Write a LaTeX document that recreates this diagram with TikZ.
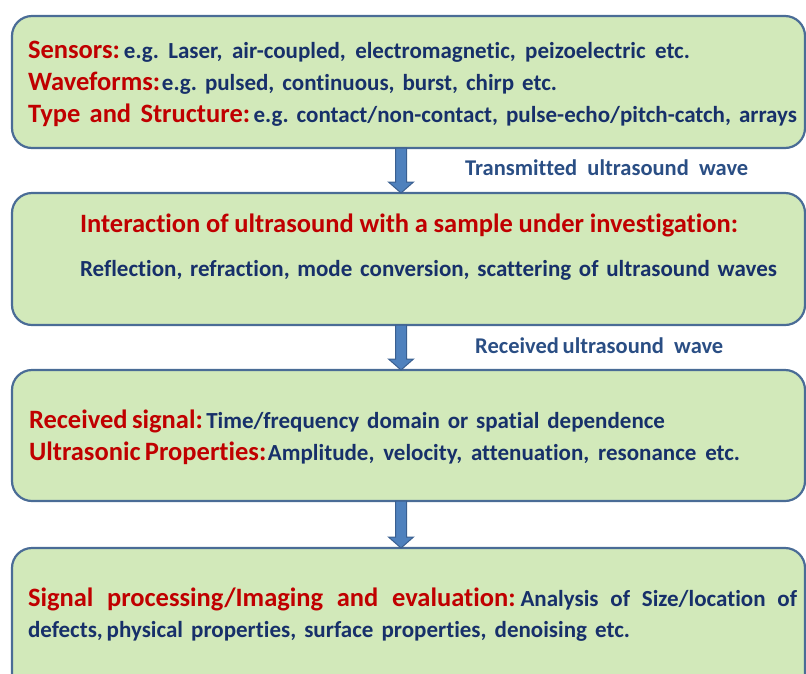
\documentclass[tikz,border=0pt]{standalone}
\usepackage{fontspec}
\setmainfont{Carlito}[Ligatures=NoCommon]
\usetikzlibrary{calc}
\frenchspacing
\definecolor{boxfill}{HTML}{D2E9BA}
\definecolor{boxdraw}{HTML}{4A6C96}
\definecolor{redtxt}{HTML}{C00000}
\definecolor{bluetxt}{HTML}{17306A}
\definecolor{lbltxt}{HTML}{2A4E84}
\definecolor{arrfill}{HTML}{4F81BD}
\definecolor{arrdraw}{HTML}{3A5F90}
\newcommand\rt[1]{{\color{redtxt}\fontsize{26.5}{30}\selectfont #1}}
\newcommand\bt[1]{{\color{bluetxt}\fontsize{23}{26}\selectfont #1}}
\newcommand\fitline[2]{\makebox[#1][s]{#2}}
\newcommand\blockarrow[2]{\draw[barrow] let \p1=(#1), \p2=(#2) in
  (\x1-5.5pt,\y1) -- (\x1+5.5pt,\y1) -- (\x1+5.5pt,\y2+11pt) -- (\x1+12.5pt,\y2+11pt)
  -- (\x1,\y2) -- (\x1-12.5pt,\y2+11pt) -- (\x1-5.5pt,\y2+11pt) -- cycle;}
\begin{document}
\begin{tikzpicture}[x=1pt,y=-1pt,
  box/.style={draw=boxdraw, fill=boxfill, line width=2.2pt, rounded corners=20pt,
    anchor=north west, inner sep=0pt, outer sep=0pt, minimum width=793pt},
  txt/.style={anchor=base west, inner sep=0pt, outer sep=0pt, font=\bfseries},
  lbl/.style={anchor=base west, inner sep=0pt, font=\bfseries\fontsize{22.5}{26}\selectfont, text=lbltxt},
  barrow/.style={fill=arrfill, draw=arrdraw, line width=1pt, line join=miter}]
\useasboundingbox (0,0) rectangle (806,673);
\clip (0,0) rectangle (806,673);
\node[box, minimum height=132pt] (b1) at (12,16) {};
\node[box, minimum height=132pt] (b2) at (12,193) {};
\node[box, minimum height=131pt] (b3) at (12,370) {};
\node[box, minimum height=150pt] (b4) at (12,548) {};
\coordinate (ax) at (401,0);
\coordinate (a1s) at (b1.south -| ax);
\coordinate (a1e) at (b2.north -| ax);
\coordinate (a2s) at (b2.south -| ax);
\coordinate (a2e) at (b3.north -| ax);
\coordinate (a3s) at (b3.south -| ax);
\coordinate (a3e) at (b4.north -| ax);
\blockarrow{a1s}{a1e}
\blockarrow{a2s}{a2e}
\blockarrow{a3s}{a3e}
\node[txt] (t11) at (28,58) {\fitline{662pt}{\rt{Sensors:} \bt{e.g. Laser, air-coupled, electromagnetic, peizoelectric etc.}}};
\node[txt] (t12) at (28,90) {\fitline{529pt}{\rt{Waveforms:}\,\bt{e.g. pulsed, continuous, burst, chirp etc.}}};
\node[txt] (t13) at (28,122) {\fitline{769pt}{\rt{Type and Structure:} \bt{e.g. contact/non-contact, pulse-echo/pitch-catch, arrays}}};
\node[lbl] (l1) at (465,175) {\fitline{283pt}{Transmitted ultrasound wave}};
\node[txt] (t21) at (80,232) {\fitline{658pt}{\rt{Interaction of ultrasound with a sample under investigation:}}};
\node[txt] (t22) at (80,276) {\fitline{697pt}{\bt{Reflection, refraction, mode conversion, scattering of ultrasound waves}}};
\node[lbl] (l2) at (475,353) {Received\,ultrasound\ \ wave};
\node[txt] (t31) at (29,428) {\fitline{636pt}{\rt{Received\,signal:} \bt{Time/frequency domain or spatial dependence}}};
\node[txt] (t32) at (29,460) {\fitline{711pt}{\rt{Ultrasonic\,Properties:}\,\bt{Amplitude, velocity, attenuation, resonance etc.}}};
\node[txt] (t41) at (28,606) {\fitline{769pt}{\rt{Signal processing/Imaging and evaluation:} \bt{Analysis of Size/location of}}};
\node[txt] (t42) at (28,637) {\fitline{602pt}{\bt{defects,\,physical properties, surface properties, denoising etc.}}};
\end{tikzpicture}
\end{document}
